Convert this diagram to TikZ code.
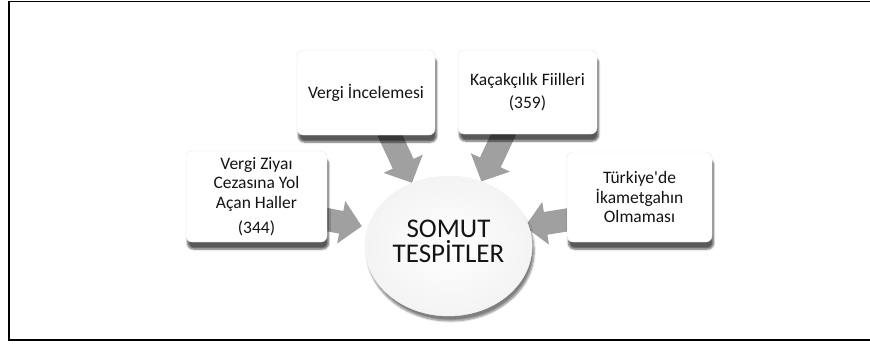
\documentclass[tikz,border=0pt]{standalone}
\usepackage{fontspec}
\setmainfont{Carlito}
\usetikzlibrary{arrows.meta,shadows.blur,shapes.geometric,backgrounds}
\definecolor{arr}{RGB}{160,160,160}
\definecolor{txt}{RGB}{20,20,20}
\tikzset{
  card/.style={rectangle, rounded corners=6pt, fill=white, draw=gray!18,
    align=center, text=txt, font=\fontsize{17.5}{19.5}\selectfont,
    blur shadow={shadow xshift=1.5pt, shadow yshift=-7pt, shadow blur steps=6, shadow opacity=65}},
  hub/.style={ellipse, minimum width=153pt, minimum height=140pt,
    inner color=white, outer color=gray!9, draw=gray!10,
    align=center, text=txt, font=\fontsize{27}{25}\selectfont, text depth=9pt,
    blur shadow={shadow xshift=2pt, shadow yshift=-5pt, shadow blur steps=6, shadow opacity=50}},
  blockarrow/.style={draw=arr, line width=23pt, -{Triangle[width=42pt,length=21pt]}},
  frameline/.style={line width=1.6pt, draw=black}
}
\begin{document}
\begin{tikzpicture}[x=1pt,y=-1pt]
\useasboundingbox (0,0) rectangle (870,343);
\draw[frameline] (872,1.5) -- (8.8,1.5) -- (8.8,340.2) -- (872,340.2);

\node[card, minimum width=141pt, minimum height=91pt] (b1) at (256.5,196.5)
  {Vergi Ziyaı\\Cezasına Yol\\Açan Haller\\[6pt](344)};
\node[card, minimum width=138pt, minimum height=85pt] (b2) at (366,92.5)
  {Vergi İncelemesi};
\node[card, minimum width=139pt, minimum height=84pt] (b3) at (527.5,92)
  {Kaçakçılık Fiilleri\\[3pt](359)};
\node[card, minimum width=145pt, minimum height=90pt] (b4) at (639.5,197)
  {Türkiye\textquotesingle de\\İkametgahın\\Olmaması};
\node[hub] (c) at (448.5,246) {SOMUT\\TESPİTLER};

\begin{scope}[on background layer]
  \draw[blockarrow, shorten >=6pt] ([xshift=-6pt,yshift=-22pt]b1.east) -- (c.167);
  \draw[blockarrow] ([xshift=22pt,yshift=4pt]b2.south) -- (c.120);
  \draw[blockarrow] ([xshift=-22pt,yshift=4pt]b3.south) -- (c.63);
  \draw[blockarrow, shorten >=-4pt] ([xshift=6pt,yshift=-22pt]b4.west) -- (c.14);
\end{scope}
\end{tikzpicture}
\end{document}
